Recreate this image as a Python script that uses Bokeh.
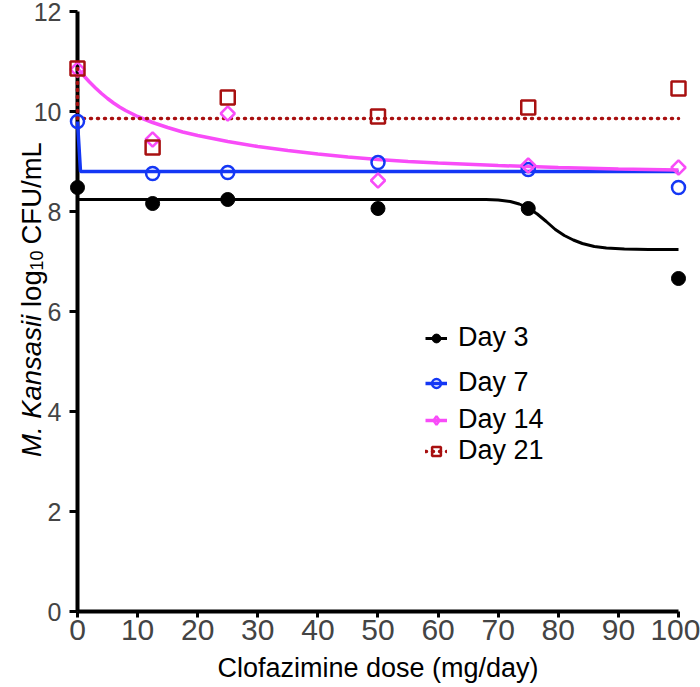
import numpy as np
from bokeh.plotting import figure
from bokeh.models import Range1d, FixedTicker, Legend, LegendItem, Label
from bokeh.embed import file_html
from bokeh.resources import INLINE

# ---- data ----
dose = [0, 12.5, 25, 50, 75, 100]
day3 = [8.48, 8.16, 8.24, 8.06, 8.06, 6.66]
day7 = [9.80, 8.76, 8.78, 8.98, 8.84, 8.48]
day14 = [10.84, 9.44, 9.96, 8.62, 8.92, 8.88]
day21 = [10.86, 9.28, 10.28, 9.90, 10.08, 10.46]

# fitted curves
fit3_x = [0, 68, 70, 72, 73.5, 75, 76.5, 78, 79.5, 81, 82.5, 84, 86, 88, 91, 95, 100]
fit3_y = [8.24, 8.24, 8.23, 8.20, 8.15, 8.07, 7.95, 7.80, 7.64, 7.52, 7.43, 7.36, 7.30,
          7.27, 7.25, 7.24, 7.24]
fit7_x = [0, 0.5, 100]
fit7_y = [9.80, 8.80, 8.80]
fit14_x = [0, 1, 2, 3, 4, 5, 6, 7, 8, 9, 10, 12.5, 15, 17.5, 20, 25, 30, 35, 40, 45, 50,
           55, 60, 70, 80, 90, 100]
fit14_y = [10.86, 10.72, 10.59, 10.47, 10.36, 10.26, 10.17, 10.09, 10.02, 9.96, 9.90, 9.78,
           9.68, 9.59, 9.52, 9.40, 9.30, 9.22, 9.15, 9.09, 9.04, 9.00, 8.97, 8.92, 8.88,
           8.85, 8.83]
fit21_x = [0, 0, 100]
fit21_y = [10.86, 9.86, 9.86]

x_ticks = [0, 10, 20, 30, 40, 50, 60, 70, 80, 90, 100]
y_ticks = [0, 2, 4, 6, 8, 10, 12]
labels = ["Day 3", "Day 7", "Day 14", "Day 21"]
x_title = "Clofazimine dose (mg/day)"

BLACK = "#000000"
BLUE = "#1437F5"
PINK = "#F84CF8"
RED = "#A81010"
SANS = "Liberation Sans"

p = figure(width=700, height=687, output_backend="svg", toolbar_location=None,
           x_range=Range1d(-12.81, 103.66), y_range=Range1d(-1.52, 12.22),
           min_border=0, min_border_left=0, min_border_right=0,
           min_border_top=0, min_border_bottom=0)
p.outline_line_color = None
p.grid.visible = False
p.background_fill_color = "white"
p.border_fill_color = "white"

# axes (drawn at the data origin)
for ax in (p.xaxis[0], p.yaxis[0]):
    ax.fixed_location = 0
    ax.axis_line_width = 4
    ax.axis_line_color = "black"
    ax.major_tick_line_width = 3
    ax.major_tick_line_color = "black"
    ax.major_tick_in = 0
    ax.minor_tick_line_color = None
    ax.major_label_text_color = "#444444"
    ax.major_label_text_font = SANS

p.xaxis.ticker = FixedTicker(ticks=x_ticks)
p.xaxis.bounds = (0, 100)
p.xaxis.major_tick_out = 6
p.xaxis.major_label_standoff = 2
p.xaxis.major_label_text_font_size = "30px"

p.yaxis.ticker = FixedTicker(ticks=y_ticks)
p.yaxis.bounds = (0, 12)
p.yaxis.major_tick_out = 8
p.yaxis.major_label_standoff = 8
p.yaxis.major_label_text_font_size = "25px"

# fitted curves
l3 = p.line(fit3_x, fit3_y, line_color=BLACK, line_width=3, level="overlay")
l7 = p.line(fit7_x, fit7_y, line_color=BLUE, line_width=3.5, level="overlay")
l14 = p.line(fit14_x, fit14_y, line_color=PINK, line_width=3.5, level="overlay")
l21 = p.line(fit21_x, fit21_y, line_color=RED, line_width=3.5, line_dash="1 6",
             line_cap="round", level="overlay")

# points
s3 = p.scatter(dose, day3, marker="circle", size=14, fill_color=BLACK, line_color=BLACK,
               line_width=1, level="overlay")
s7 = p.scatter(dose, day7, marker="circle", size=13, fill_color=None, line_color=BLUE,
               line_width=2.5, level="overlay")
s14 = p.scatter(dose, day14, marker="square", angle=np.pi / 4, size=10, fill_color=None,
                line_color=PINK, line_width=2.5, level="overlay")
s21 = p.scatter(dose, day21, marker="square", size=14, fill_color=None, line_color=RED,
                line_width=2.5, level="overlay")
# diamond key used only by the legend (hidden on the plot)
s14_key = p.scatter(dose, day14, marker="diamond", size=10, fill_color=None,
                    line_color=PINK, line_width=2.5, visible=False)

def make_legend(label, renderers, bottom):
    lg = Legend(items=[LegendItem(label=label, renderers=renderers)], location=(425, bottom))
    lg.border_line_color = None
    lg.background_fill_alpha = 0
    lg.inactive_fill_alpha = 0
    lg.padding = 0
    lg.margin = 0
    lg.spacing = 0
    lg.glyph_width = 22
    lg.glyph_height = 30
    lg.label_height = 30
    lg.label_standoff = 11
    lg.label_text_font = SANS
    lg.label_text_font_size = "27px"
    lg.label_text_color = "black"
    return lg

# one legend block per row (rows are unevenly spaced in the reference)
p.add_layout(make_legend(labels[0], [l3, s3], 334))
p.add_layout(make_legend(labels[1], [l7, s7], 289))
p.add_layout(make_legend(labels[2], [l14, s14_key], 252))
p.add_layout(make_legend(labels[3], [l21, s21], 221))

# x-axis title
p.add_layout(Label(x=50, y=-1.12, text=x_title, text_align="center",
                   text_baseline="middle", text_font=SANS, text_font_size="27px",
                   text_color="black"))

# y-axis title (rotated, italic species name and subscript)
common = dict(angle=np.pi / 2, text_align="left", text_baseline="alphabetic",
              text_font=SANS, text_color="black")
p.add_layout(Label(x=-7.65, y=3.09, text="M. Kansasii", text_font_style="italic",
                   text_font_size="27.5px", **common))
p.add_layout(Label(x=-7.65, y=6.09, text="log", text_font_size="27.5px", **common))
p.add_layout(Label(x=-6.82, y=6.82, text="10", text_font_size="18px", **common))
p.add_layout(Label(x=-7.65, y=7.34, text="CFU/mL", text_font_size="27.5px", **common))

open("out.html", "w").write(file_html(p, INLINE))
